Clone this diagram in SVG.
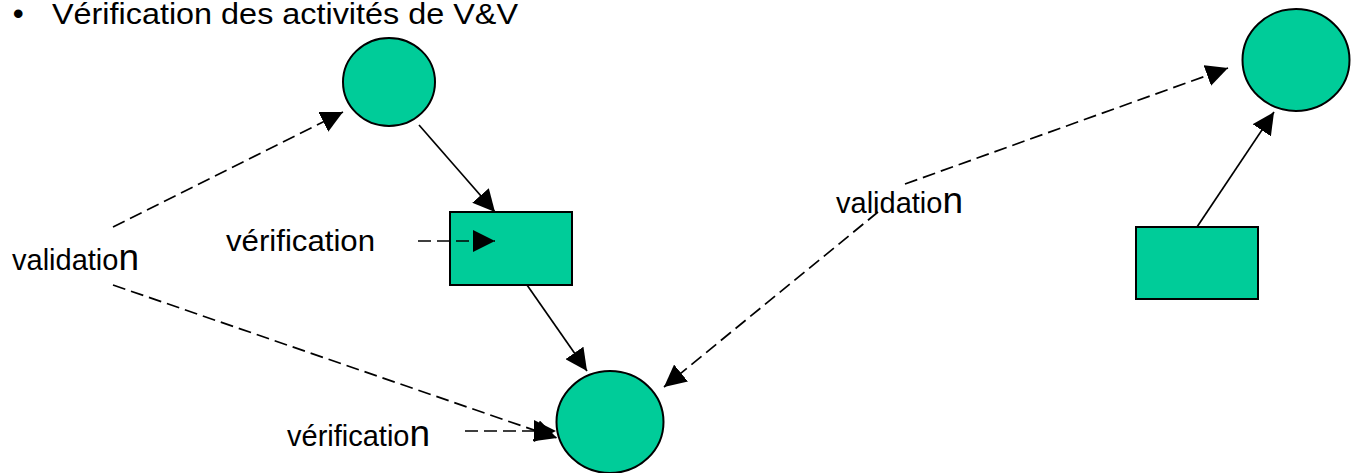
<svg xmlns="http://www.w3.org/2000/svg" width="1353" height="473" viewBox="0 0 1353 473">
<style>
.node{fill:#00CC99;stroke:#000;stroke-width:2}
.lbl{font-family:"Liberation Sans",Arial,sans-serif;font-size:29px;fill:#000}
.big{font-size:37px}
.ln{stroke:#000;stroke-width:1.7;fill:none;marker-end:url(#ah)}
.dash{stroke-dasharray:13 6}
</style>
<defs>
<marker id="ah" markerUnits="userSpaceOnUse" markerWidth="22" markerHeight="22" refX="21" refY="10.5" orient="auto" viewBox="0 0 21 21">
<path d="M0,0 L21,10.5 L0,21 z" fill="#000"/>
</marker>
</defs>
<rect width="1353" height="473" fill="#fff"/>
<g id="title">
<text class="lbl" x="13" y="24"><tspan font-weight="bold" font-size="30">•</tspan><tspan x="52" textLength="466" lengthAdjust="spacingAndGlyphs">Vérification des activités de V&amp;V</tspan></text>
</g>
<g id="labels">
<text class="lbl" x="226" y="251" textLength="149" lengthAdjust="spacingAndGlyphs">vérification</text>
<text class="lbl" x="12" y="270">validatio<tspan class="big">n</tspan></text>
<text class="lbl" x="287" y="446">vérificatio<tspan class="big">n</tspan></text>
<text class="lbl" x="836" y="213">validatio<tspan class="big">n</tspan></text>
</g>
<g id="n1"><ellipse class="node" cx="389" cy="82" rx="46" ry="44"/></g>
<g id="n2"><rect class="node" x="450" y="212" width="122" height="73"/></g>
<g id="n3"><ellipse class="node" cx="610" cy="422" rx="53.5" ry="51"/></g>
<g id="n4"><ellipse class="node" cx="1296" cy="60" rx="53.5" ry="51"/></g>
<g id="n5"><rect class="node" x="1136" y="227" width="122" height="72"/></g>
<g id="connectors">
<line class="ln" x1="419" y1="125" x2="495" y2="212"/>
<line class="ln" x1="527" y1="285" x2="587" y2="371"/>
<line class="ln" x1="1197" y1="227" x2="1274" y2="112"/>
<line class="ln dash" x1="418" y1="241" x2="495" y2="241"/>
<line class="ln dash" x1="113" y1="227" x2="343" y2="112"/>
<line class="ln dash" x1="113" y1="285" x2="557" y2="438"/>
<line class="ln dash" x1="465" y1="431" x2="556" y2="431"/>
<line class="ln dash" x1="905" y1="184" x2="1228" y2="68"/>
<line class="ln dash" x1="878" y1="212" x2="664" y2="387"/>
</g>
</svg>
